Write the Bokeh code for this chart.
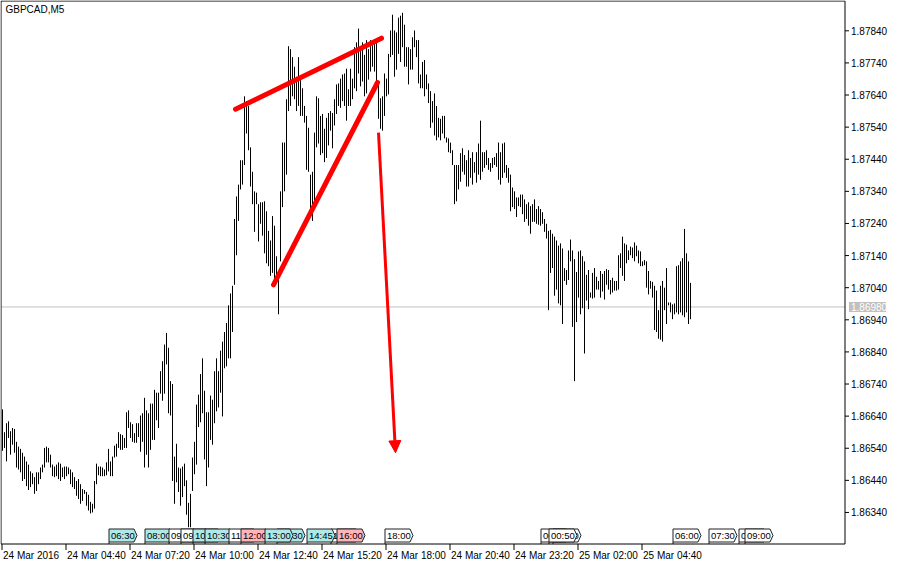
import pandas as pd
from bokeh.plotting import figure
from bokeh.models import Arrow, NormalHead, Range1d
from bokeh.core.properties import value
from bokeh.embed import file_html
from bokeh.resources import INLINE

FONT = "Liberation Sans"

symbol_title = "GBPCAD,M5"
first_bar_time = "2016-03-24 02:00"
bar_minutes = 5

highs = [
    1.86661, 1.86590, 1.86618, 1.86624, 1.86593, 1.86603, 1.86600, 1.86560, 1.86545, 1.86538,
    1.86526, 1.86514, 1.86499, 1.86489, 1.86468, 1.86462, 1.86450, 1.86465, 1.86465, 1.86480,
    1.86489, 1.86541, 1.86545, 1.86541, 1.86520, 1.86489, 1.86483, 1.86489, 1.86496, 1.86492,
    1.86480, 1.86483, 1.86483, 1.86480, 1.86474, 1.86465, 1.86450, 1.86438, 1.86444, 1.86428,
    1.86413, 1.86410, 1.86404, 1.86395, 1.86373, 1.86367, 1.86438, 1.86492, 1.86483, 1.86483,
    1.86480, 1.86474, 1.86496, 1.86538, 1.86499, 1.86514, 1.86548, 1.86554, 1.86590, 1.86584,
    1.86581, 1.86572, 1.86652, 1.86658, 1.86621, 1.86615, 1.86587, 1.86618, 1.86618, 1.86642,
    1.86649, 1.86697, 1.86658, 1.86649, 1.86679, 1.86679, 1.86722, 1.86713, 1.86713, 1.86780,
    1.86811, 1.86863, 1.86899, 1.86853, 1.86749, 1.86740, 1.86514, 1.86554, 1.86480, 1.86477,
    1.86483, 1.86492, 1.86440, 1.86370, 1.86398, 1.86511, 1.86560, 1.86676, 1.86707, 1.86771,
    1.86820, 1.86719, 1.86652, 1.86652, 1.86704, 1.86691, 1.86780, 1.86820, 1.86780, 1.86844,
    1.86872, 1.86902, 1.86930, 1.86985, 1.87022, 1.87046, 1.87254, 1.87324, 1.87361, 1.87437,
    1.87437, 1.87636, 1.87621, 1.87606, 1.87477, 1.87401, 1.87340, 1.87336, 1.87300, 1.87306,
    1.87306, 1.87309, 1.87278, 1.87217, 1.87187, 1.87263, 1.87233, 1.87138, 1.87064, 1.87340,
    1.87492, 1.87492, 1.87627, 1.87792, 1.87783, 1.87758, 1.87728, 1.87697, 1.87758, 1.87688,
    1.87661, 1.87606, 1.87575, 1.87538, 1.87392, 1.87401, 1.87523, 1.87636, 1.87630, 1.87575,
    1.87581, 1.87535, 1.87569, 1.87584, 1.87590, 1.87584, 1.87627, 1.87673, 1.87676, 1.87691,
    1.87704, 1.87707, 1.87722, 1.87658, 1.87722, 1.87691, 1.87789, 1.87804, 1.87847, 1.87780,
    1.87804, 1.87765, 1.87811, 1.87783, 1.87811, 1.87795, 1.87804, 1.87811, 1.87682, 1.87630,
    1.87636, 1.87707, 1.87691, 1.87768, 1.87841, 1.87890, 1.87841, 1.87835, 1.87881, 1.87887,
    1.87896, 1.87859, 1.87789, 1.87789, 1.87783, 1.87820, 1.87841, 1.87811, 1.87811, 1.87704,
    1.87743, 1.87749, 1.87704, 1.87676, 1.87652, 1.87621, 1.87645, 1.87606, 1.87569, 1.87566,
    1.87575, 1.87575, 1.87508, 1.87505, 1.87492, 1.87468, 1.87422, 1.87422, 1.87422, 1.87459,
    1.87474, 1.87453, 1.87437, 1.87468, 1.87444, 1.87462, 1.87431, 1.87462, 1.87489, 1.87560,
    1.87462, 1.87462, 1.87468, 1.87444, 1.87428, 1.87444, 1.87447, 1.87459, 1.87492, 1.87462,
    1.87489, 1.87492, 1.87422, 1.87413, 1.87392, 1.87352, 1.87340, 1.87321, 1.87321, 1.87330,
    1.87330, 1.87315, 1.87300, 1.87306, 1.87294, 1.87300, 1.87315, 1.87285, 1.87294, 1.87285,
    1.87275, 1.87254, 1.87239, 1.87217, 1.87220, 1.87208, 1.87199, 1.87187, 1.87171, 1.87178,
    1.87162, 1.87101, 1.87095, 1.87156, 1.87190, 1.87156, 1.87129, 1.87089, 1.87153, 1.87156,
    1.87138, 1.87122, 1.87080, 1.87095, 1.87025, 1.87086, 1.87101, 1.87074, 1.87061, 1.87092,
    1.87083, 1.87092, 1.87098, 1.87095, 1.87064, 1.87071, 1.87061, 1.87061, 1.87141, 1.87147,
    1.87199, 1.87178, 1.87174, 1.87156, 1.87168, 1.87165, 1.87181, 1.87171, 1.87156, 1.87153,
    1.87122, 1.87126, 1.87122, 1.87092, 1.87061, 1.87058, 1.87046, 1.87031, 1.86970, 1.87046,
    1.87061, 1.87040, 1.87101, 1.86994, 1.86994, 1.86988, 1.86991, 1.87107, 1.87110, 1.87122,
    1.87132, 1.87223, 1.87147, 1.87122, 1.87055,
]

lows = [
    1.86532, 1.86541, 1.86499, 1.86572, 1.86520, 1.86551, 1.86526, 1.86480, 1.86474, 1.86465,
    1.86438, 1.86444, 1.86422, 1.86410, 1.86419, 1.86428, 1.86398, 1.86407, 1.86428, 1.86444,
    1.86465, 1.86480, 1.86496, 1.86496, 1.86480, 1.86453, 1.86450, 1.86453, 1.86444, 1.86438,
    1.86450, 1.86444, 1.86453, 1.86459, 1.86428, 1.86419, 1.86413, 1.86392, 1.86382, 1.86367,
    1.86376, 1.86398, 1.86361, 1.86346, 1.86337, 1.86340, 1.86352, 1.86428, 1.86456, 1.86453,
    1.86453, 1.86453, 1.86456, 1.86468, 1.86453, 1.86453, 1.86511, 1.86514, 1.86541, 1.86535,
    1.86535, 1.86541, 1.86541, 1.86603, 1.86572, 1.86560, 1.86557, 1.86557, 1.86575, 1.86529,
    1.86560, 1.86480, 1.86520, 1.86480, 1.86535, 1.86566, 1.86566, 1.86627, 1.86603, 1.86710,
    1.86688, 1.86710, 1.86801, 1.86649, 1.86642, 1.86438, 1.86367, 1.86434, 1.86404, 1.86361,
    1.86388, 1.86422, 1.86333, 1.86294, 1.86294, 1.86407, 1.86459, 1.86489, 1.86606, 1.86621,
    1.86649, 1.86505, 1.86422, 1.86480, 1.86566, 1.86551, 1.86618, 1.86655, 1.86667, 1.86713,
    1.86639, 1.86789, 1.86795, 1.86820, 1.86820, 1.86902, 1.87049, 1.87141, 1.87248, 1.87346,
    1.87361, 1.87422, 1.87520, 1.87468, 1.87355, 1.87300, 1.87214, 1.87300, 1.87184, 1.87239,
    1.87202, 1.87147, 1.87116, 1.87107, 1.87077, 1.87086, 1.87055, 1.87055, 1.86957, 1.87122,
    1.87291, 1.87340, 1.87392, 1.87590, 1.87606, 1.87636, 1.87627, 1.87590, 1.87606, 1.87575,
    1.87575, 1.87554, 1.87407, 1.87401, 1.87269, 1.87248, 1.87300, 1.87477, 1.87489, 1.87453,
    1.87459, 1.87431, 1.87444, 1.87483, 1.87529, 1.87474, 1.87545, 1.87581, 1.87606, 1.87600,
    1.87621, 1.87606, 1.87560, 1.87606, 1.87606, 1.87627, 1.87661, 1.87652, 1.87707, 1.87667,
    1.87682, 1.87636, 1.87645, 1.87688, 1.87713, 1.87728, 1.87713, 1.87682, 1.87566, 1.87535,
    1.87529, 1.87575, 1.87636, 1.87642, 1.87758, 1.87765, 1.87697, 1.87719, 1.87768, 1.87743,
    1.87789, 1.87728, 1.87728, 1.87673, 1.87719, 1.87719, 1.87789, 1.87758, 1.87676, 1.87661,
    1.87661, 1.87636, 1.87658, 1.87615, 1.87538, 1.87554, 1.87514, 1.87499, 1.87508, 1.87499,
    1.87520, 1.87505, 1.87492, 1.87462, 1.87459, 1.87422, 1.87300, 1.87309, 1.87346, 1.87370,
    1.87401, 1.87392, 1.87355, 1.87355, 1.87382, 1.87361, 1.87398, 1.87367, 1.87392, 1.87376,
    1.87401, 1.87413, 1.87422, 1.87407, 1.87401, 1.87413, 1.87422, 1.87416, 1.87376, 1.87361,
    1.87382, 1.87398, 1.87382, 1.87367, 1.87278, 1.87291, 1.87285, 1.87260, 1.87294, 1.87291,
    1.87269, 1.87245, 1.87254, 1.87233, 1.87208, 1.87245, 1.87245, 1.87239, 1.87236, 1.87233,
    1.87239, 1.87214, 1.87193, 1.86970, 1.87086, 1.87101, 1.87015, 1.87034, 1.86991, 1.86985,
    1.86927, 1.87061, 1.87049, 1.87064, 1.87122, 1.86918, 1.86749, 1.86933, 1.87009, 1.86957,
    1.86976, 1.86835, 1.87000, 1.86973, 1.87009, 1.87006, 1.87009, 1.87034, 1.87034, 1.87009,
    1.87028, 1.87003, 1.87049, 1.87034, 1.87019, 1.87025, 1.87031, 1.87031, 1.87034, 1.87101,
    1.87077, 1.87061, 1.87116, 1.87126, 1.87141, 1.87132, 1.87122, 1.87138, 1.87116, 1.87107,
    1.87107, 1.87110, 1.87040, 1.87019, 1.87037, 1.87009, 1.86908, 1.86902, 1.86881, 1.86878,
    1.86872, 1.86970, 1.86927, 1.86985, 1.86963, 1.86942, 1.86957, 1.86963, 1.86957, 1.86963,
    1.86954, 1.86948, 1.86963, 1.86927, 1.86942,
]

price_ticks = [1.86340, 1.86440, 1.86540, 1.86640, 1.86740, 1.86840, 1.86940, 1.87040,
               1.87140, 1.87240, 1.87340, 1.87440, 1.87540, 1.87640, 1.87740, 1.87840]
current_price = 1.86980

time_tick_times = ["2016-03-24 02:00", "2016-03-24 04:40", "2016-03-24 07:20", "2016-03-24 10:00",
                   "2016-03-24 12:40", "2016-03-24 15:20", "2016-03-24 18:00", "2016-03-24 20:40",
                   "2016-03-24 23:20", "2016-03-25 02:00", "2016-03-25 04:40"]
time_tick_labels = ["24 Mar 2016", "24 Mar 04:40", "24 Mar 07:20", "24 Mar 10:00",
                    "24 Mar 12:40", "24 Mar 15:20", "24 Mar 18:00", "24 Mar 20:40",
                    "24 Mar 23:20", "25 Mar 02:00", "25 Mar 04:40"]

# drawing objects (bar index, price)
upper_line_x = [116.5, 189.5]
upper_line_y = [1.87596, 1.87817]
lower_line_x = [135.5, 187.5]
lower_line_y = [1.87049, 1.87679]
arrow_x = [188.0, 196.5]
arrow_y = [1.87523, 1.86526]

# economic calendar events (in drawing order)
event_times = ["2016-03-24 06:30", "2016-03-24 08:00", "2016-03-24 09:00", "2016-03-24 09:30",
               "2016-03-24 10:00", "2016-03-24 10:30", "2016-03-24 11:30", "2016-03-24 12:00",
               "2016-03-24 13:30", "2016-03-24 13:00", "2016-03-24 15:45", "2016-03-24 14:45",
               "2016-03-24 16:00", "2016-03-24 18:00", "2016-03-25 01:00", "2016-03-25 00:30",
               "2016-03-25 00:50", "2016-03-25 06:00", "2016-03-25 07:30", "2016-03-25 08:45",
               "2016-03-25 09:00"]
event_labels = ["06:30", "08:00", "09:00", "09:30", "10:00", "10:30", "11:30", "12:00",
                "13:30", "13:00", "15:45", "14:45", "16:00", "18:00", "01:00", "00:30",
                "00:50", "06:00", "07:30", "08:45", "09:00"]
event_kinds = ["mid", "mid", "low", "low", "mid", "mid", "low", "high",
               "mid", "mid", "low", "mid", "high", "low", "low", "low",
               "low", "low", "low", "low", "low"]
kind_colors = {"low": "#ffffff", "mid": "#aee9e9", "high": "#ffb3bb"}

t0 = pd.Timestamp(first_bar_time)


def bar_index(t):
    return (pd.Timestamp(t) - t0) / pd.Timedelta(minutes=bar_minutes)


# ---- layout: one frame covering the whole canvas, scales set so 1 bar = 2 px ----
W, H = 889, 562
PX_PER_BAR = 2
X_START = -1.0                  # bar index at canvas x = 0
CHART_RIGHT_PX = 844.5          # chart border (right) in canvas px
CHART_BOTTOM_PX = 543.5         # chart border (bottom) in canvas px
PRICE_TOP = 1.879328            # price at top border
PRICE_BOTTOM = 1.862418         # price at bottom border
YPP = (PRICE_TOP - PRICE_BOTTOM) / (CHART_BOTTOM_PX - 0.5)


def xd(px):
    return X_START + px / PX_PER_BAR


def yd(py):
    return PRICE_TOP - (py - 0.5) * YPP


p = figure(width=W, height=H, output_backend="svg", toolbar_location=None,
           x_range=Range1d(xd(0), xd(W)), y_range=Range1d(yd(H), yd(0)),
           x_axis_location=None, y_axis_location=None, min_border=0)
p.xgrid.visible = False
p.ygrid.visible = False
p.outline_line_color = None
p.background_fill_color = "white"
p.border_fill_color = "white"

left_b, right_b = xd(0.5), xd(CHART_RIGHT_PX)
top_b, bot_b = yd(0.5), yd(CHART_BOTTOM_PX)

# current price line (behind bars)
p.segment(x0=[left_b], y0=[current_price], x1=[right_b], y1=[current_price],
          line_color="#c0c0c0", line_width=1)

# bars (high-low)
idx = list(range(len(highs)))
p.segment(x0=idx, y0=lows, x1=idx, y1=highs, line_color="black", line_width=1)

# trend lines and arrow
p.line(upper_line_x, upper_line_y, line_color="#ff0000", line_width=5, line_cap="round")
p.line(lower_line_x, lower_line_y, line_color="#ff0000", line_width=5, line_cap="round")
p.add_layout(Arrow(end=NormalHead(size=12, fill_color="#ff0000", line_color="#ff0000", line_width=1),
                   x_start=arrow_x[0], y_start=arrow_y[0], x_end=arrow_x[1], y_end=arrow_y[1],
                   line_color="#ff0000", line_width=3))

# calendar events
ev_bot = yd(CHART_BOTTOM_PX - 2)
ev_top = yd(CHART_BOTTOM_PX - 15)
ev_mid = (ev_bot + ev_top) / 2
for t, lab, kind in zip(event_times, event_labels, event_kinds):
    left = bar_index(t) - 0.75
    xs = [left, left + 12.5, left + 14, left + 12.5, left]
    ys = [ev_bot, ev_bot, ev_mid, ev_top, ev_top]
    p.patch(xs, ys, fill_color=kind_colors[kind], line_color="#202020", line_width=1)
    p.segment(x0=[left], y0=[bot_b], x1=[left], y1=[ev_bot], line_color="#202020", line_width=1)
    p.text(x=[left + 1.0], y=[ev_mid], text=[lab], text_font=value(FONT), text_font_size="9.5px",
           text_baseline="middle", text_align="left", text_color="black")

# chart border
p.quad(left=[left_b], right=[right_b], top=[top_b], bottom=[bot_b],
       fill_color=None, line_color="black", line_width=1)

# price scale (right)
p.segment(x0=[right_b] * len(price_ticks), y0=price_ticks,
          x1=[xd(CHART_RIGHT_PX + 4)] * len(price_ticks), y1=price_ticks,
          line_color="black", line_width=1)
p.text(x=[xd(CHART_RIGHT_PX + 6)] * len(price_ticks), y=price_ticks,
       text=[f"{v:.5f}" for v in price_ticks], text_font=value(FONT), text_font_size="10px",
       text_baseline="middle", text_align="left", text_color="black")

# current price tag
p.quad(left=[xd(CHART_RIGHT_PX + 4)], right=[xd(CHART_RIGHT_PX + 41)],
       top=[current_price + 5 * YPP], bottom=[current_price - 5 * YPP],
       fill_color="#c0c0c0", line_color=None)
p.text(x=[xd(CHART_RIGHT_PX + 6)], y=[current_price], text=[f"{current_price:.5f}"],
       text_font=value(FONT), text_font_size="10px", text_baseline="middle",
       text_align="left", text_color="white")

# time scale (bottom)
tick_idx = [bar_index(t) - 0.25 for t in time_tick_times]
p.segment(x0=tick_idx, y0=[bot_b] * len(tick_idx), x1=tick_idx,
          y1=[yd(CHART_BOTTOM_PX + 6)] * len(tick_idx), line_color="black", line_width=1)
p.text(x=[i + 0.5 for i in tick_idx], y=[yd(CHART_BOTTOM_PX + 6)] * len(tick_idx),
       text=time_tick_labels, text_font=value(FONT), text_font_size="10px",
       text_baseline="top", text_align="left", text_color="black")

# symbol title
p.text(x=[xd(5)], y=[yd(3)], text=[symbol_title], text_font=value(FONT), text_font_size="10px",
       text_baseline="top", text_align="left", text_color="black")

open("out.html", "w").write(file_html(p, INLINE))
